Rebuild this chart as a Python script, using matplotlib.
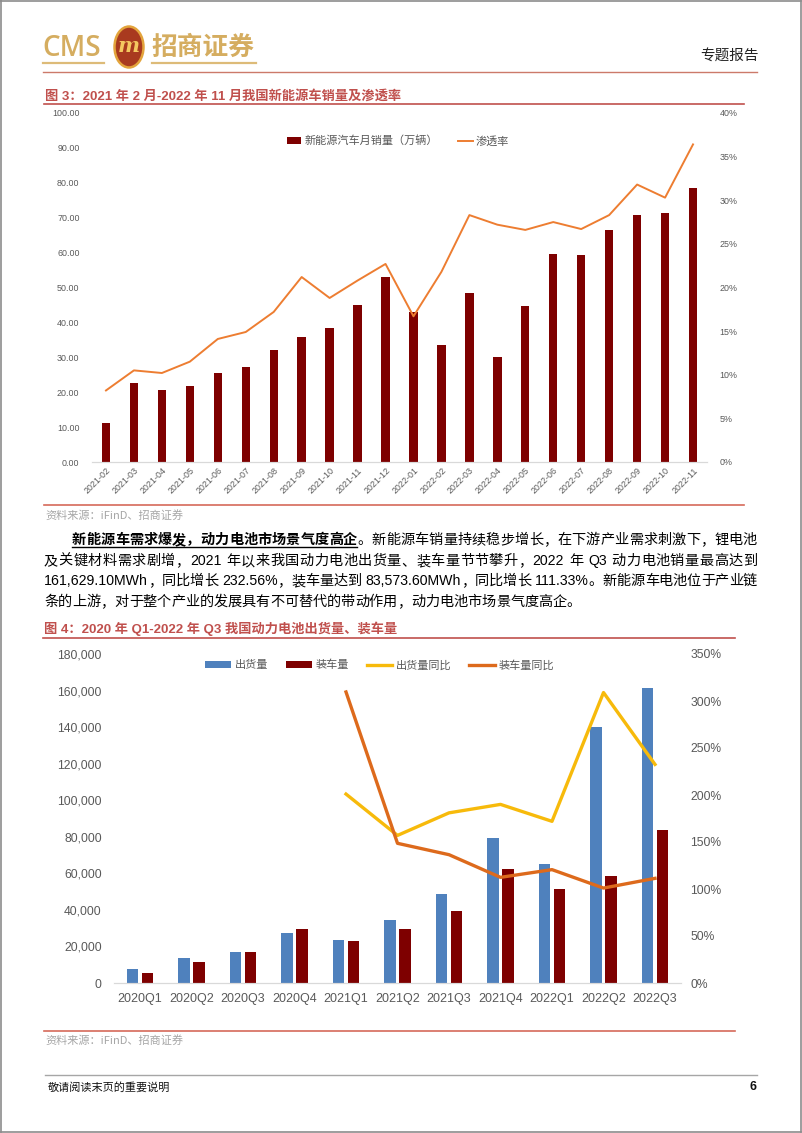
import matplotlib
matplotlib.use("Agg")
import matplotlib.pyplot as plt
import numpy as np
from matplotlib.patches import Circle, Patch
from matplotlib.lines import Line2D
from matplotlib.ticker import FuncFormatter, MultipleLocator

W, H = 802, 1133
CJK = ['Noto Sans CJK SC', 'DejaVu Sans']
LAT = ['Liberation Sans', 'Noto Sans CJK SC', 'DejaVu Sans']
plt.rcParams['font.family'] = CJK

# ---------------- data ----------------
months = ['2021-02', '2021-03', '2021-04', '2021-05', '2021-06', '2021-07', '2021-08',
          '2021-09', '2021-10', '2021-11', '2021-12', '2022-01', '2022-02', '2022-03',
          '2022-04', '2022-05', '2022-06', '2022-07', '2022-08', '2022-09', '2022-10',
          '2022-11']
nev_sales = [11.1, 22.7, 20.6, 21.8, 25.6, 27.1, 32.1, 35.7, 38.3, 45.0, 53.1, 43.1,
             33.4, 48.4, 30.0, 44.7, 59.6, 59.3, 66.6, 70.8, 71.4, 78.6]
penetration = [8.2, 10.5, 10.2, 11.5, 14.1, 14.9, 17.2, 21.2, 18.8, 20.8, 22.7, 16.7,
               21.8, 28.3, 27.2, 26.6, 27.5, 26.7, 28.3, 31.8, 30.3, 36.4]
chart1_labels = ['新能源汽车月销量（万辆）', '渗透率']

quarters = ['2020Q1', '2020Q2', '2020Q3', '2020Q4', '2021Q1', '2021Q2', '2021Q3',
            '2021Q4', '2022Q1', '2022Q2', '2022Q3']
shipments = [7840, 13500, 17150, 27360, 23700, 34290, 48500, 79160, 64930, 139900, 161629.10]
installs = [5700, 11670, 16780, 29550, 23160, 29370, 39400, 62380, 51250, 58550, 83573.60]
ship_yoy = [np.nan, np.nan, np.nan, np.nan, 201, 157, 181, 190, 172, 309, 232.56]
inst_yoy = [np.nan, np.nan, np.nan, np.nan, 309.6, 148.6, 136.5, 112.4, 120.6, 101, 111.33]
chart2_labels = ['出货量', '装车量', '出货量同比', '装车量同比']

# ---------------- helpers ----------------
def fx(x):
    return x / W

def fy(y):
    return 1 - y / H

fig = plt.figure(figsize=(W / 100, H / 100), dpi=100)
fig.patch.set_facecolor('white')

def hline(y, x0, x1, color, lw=1.0):
    fig.add_artist(Line2D([fx(x0), fx(x1)], [fy(y), fy(y)], color=color, lw=lw,
                          transform=fig.transFigure))

def vline(x, y0, y1, color, lw=1.0):
    fig.add_artist(Line2D([fx(x), fx(x)], [fy(y0), fy(y1)], color=color, lw=lw,
                          transform=fig.transFigure))

# page border
bc = '#8c8c8c'
hline(0.6, 0, 801, bc, 1.2)
hline(1131.5, 0, 801, bc, 1.2)
vline(0.6, 0, 1132, bc, 1.2)
vline(800.5, 0, 1132, bc, 1.2)

# ---------------- header ----------------
gold = '#D5AD60'
fig.text(fx(42), fy(48), 'CMS', fontsize=20, color=gold, family=['Open Sans', 'DejaVu Sans'],
         weight='semibold', va='center', ha='left')
logo = Circle((fx(129), fy(47)), 14.5 / W, transform=fig.transFigure,
              facecolor='#A93A1F', edgecolor='#E3A43C', lw=1.8)
fig.add_artist(logo)
fig.text(fx(129), fy(46), 'm', fontsize=15, color='#F4C860', weight='bold', style='italic',
         family=['DejaVu Serif'], ha='center', va='center')
fig.text(fx(151), fy(47), '招商证券', fontsize=18.5, color=gold, weight='bold',
         family=CJK, va='center', ha='left')
hline(62.5, 43, 104, '#DDBB78', 1.6)
hline(62.5, 152, 256, '#DDBB78', 1.6)
hline(72, 43, 757, '#CC7A6A', 1.0)
fig.text(fx(759), fy(56), '专题报告', fontsize=10.5, color='#222222', ha='right', va='center')

title_c = '#C0504D'
# ---------------- chart 1 ----------------
fig.text(fx(45), fy(96), '图 3：2021 年 2 月-2022 年 11 月我国新能源车销量及渗透率', fontsize=9.5,
         color=title_c, weight='bold', family=LAT, va='center', ha='left')
hline(104, 44, 744, title_c, 1.2)

ax1 = fig.add_axes([fx(92), fy(462), (707 - 92) / W, (462 - 113) / H])
x1 = np.arange(len(months))
ax1.bar(x1, nev_sales, width=0.3, color='#7E0000', zorder=2)
ax1.set_xlim(-0.5, len(months) - 0.5)
ax1.set_ylim(0, 100)
ax1.yaxis.set_major_locator(MultipleLocator(10))
ax1.yaxis.set_major_formatter(FuncFormatter(lambda v, p: f'{v:.2f}'))
ax1.set_xticks(x1)
ax1.set_xticklabels(months, rotation=45, ha='right', rotation_mode='anchor')
ax1b = ax1.twinx()
ax1b.plot(x1, penetration, color='#ED7D31', lw=1.4, zorder=3)
ax1b.set_ylim(0, 40)
ax1b.yaxis.set_major_locator(MultipleLocator(5))
ax1b.yaxis.set_major_formatter(FuncFormatter(lambda v, p: f'{v:.0f}%'))
for a in (ax1, ax1b):
    for s in ('top', 'left', 'right'):
        a.spines[s].set_visible(False)
    a.spines['bottom'].set_color('#D9D9D9')
    a.tick_params(length=0, labelsize=6.4, labelcolor='#595959')
    for t in a.get_xticklabels() + a.get_yticklabels():
        t.set_family(LAT)
ax1.tick_params(axis='y', pad=9)
ax1b.tick_params(axis='y', pad=9)
ax1.tick_params(axis='x', pad=3)
ax1b.patch.set_visible(False)
fig.legend([Patch(facecolor='#7E0000'), Line2D([], [], color='#ED7D31', lw=1.4)],
           chart1_labels, loc='center', bbox_to_anchor=(fx(398), fy(141)), ncol=2,
           frameon=False, fontsize=8, handlelength=1.3, handleheight=0.5,
           handletextpad=0.3, columnspacing=1.8, labelcolor='#595959')

fig.text(fx(45), fy(515), '资料来源：iFinD、招商证券', fontsize=8, color='#A6A6A6',
         va='center', ha='left')
hline(505, 44, 744, '#D66A5A', 1.2)

# ---------------- paragraph ----------------
fig.canvas.draw()
renderer = fig.canvas.get_renderer()

def tokenize(s):
    toks = []
    buf = ''
    for ch in s:
        if ord(ch) < 128 and ch != ' ':
            buf += ch
        else:
            if buf:
                toks.append(buf)
                buf = ''
            toks.append(ch)
    if buf:
        toks.append(buf)
    return toks

def draw_line(segments, x0, x1, y, size=10.2, justify=True):
    items = []
    for text, bold in segments:
        for tok in tokenize(text):
            t = fig.text(0, fy(y), tok, fontsize=size, family=LAT if tok.isascii() else CJK,
                         weight='bold' if bold else 'normal', color='#000000', va='center',
                         ha='left')
            w = t.get_window_extent(renderer).width if tok != ' ' else size * 0.28 / 0.72
            items.append((t, w, bold))
    total = sum(w for _, w, _ in items)
    gap = (x1 - x0 - total) / (len(items) - 1) if justify and len(items) > 1 else 0
    x = x0
    bold_end = None
    for t, w, bold in items:
        t.set_x(fx(x))
        x += w
        if bold:
            bold_end = x
        x += gap
    return bold_end

be = draw_line([('新能源车需求爆发，动力电池市场景气度高企', True),
                ('。新能源车销量持续稳步增长，在下游产业需求刺激下，锂电池', False)], 72, 757, 540)
hline(547, 72, be, '#000000', 1.0)
draw_line([('及关键材料需求剧增，2021 年以来我国动力电池出货量、装车量节节攀升，2022 年 Q3 动力电池销量最高达到', False)],
          44, 757, 561)
draw_line([('161,629.10MWh，同比增长 232.56%，装车量达到 83,573.60MWh，同比增长 111.33%。新能源车电池位于产业链', False)],
          44, 757, 581)
draw_line([('条的上游，对于整个产业的发展具有不可替代的带动作用，动力电池市场景气度高企。', False)],
          44, 757, 602, justify=False)

# ---------------- chart 2 ----------------
fig.text(fx(44), fy(629), '图 4：2020 年 Q1-2022 年 Q3 我国动力电池出货量、装车量', fontsize=9.5,
         color=title_c, weight='bold', family=LAT, va='center', ha='left')
hline(638, 43, 735, title_c, 1.2)

ax2 = fig.add_axes([fx(114.25), fy(983), (680.75 - 114.25) / W, (983 - 654) / H])
x2 = np.arange(len(quarters))
bw = 0.215
ax2.bar(x2 - 0.145, shipments, width=bw, color='#4F81BD', zorder=2)
ax2.bar(x2 + 0.145, installs, width=bw, color='#7E0000', zorder=2)
ax2.set_xlim(-0.5, len(quarters) - 0.5)
ax2.set_ylim(0, 180000)
ax2.yaxis.set_major_locator(MultipleLocator(20000))
ax2.yaxis.set_major_formatter(FuncFormatter(lambda v, p: f'{v:,.0f}'))
ax2.set_xticks(x2)
ax2.set_xticklabels(quarters)
ax2b = ax2.twinx()
ax2b.plot(x2, ship_yoy, color='#F7BA0B', lw=2.4, zorder=3)
ax2b.plot(x2, inst_yoy, color='#DD6A1C', lw=2.4, zorder=3)
ax2b.set_ylim(0, 350)
ax2b.yaxis.set_major_locator(MultipleLocator(50))
ax2b.yaxis.set_major_formatter(FuncFormatter(lambda v, p: f'{v:.0f}%'))
for a in (ax2, ax2b):
    for s in ('top', 'left', 'right'):
        a.spines[s].set_visible(False)
    a.spines['bottom'].set_color('#D9D9D9')
    a.tick_params(length=0, labelsize=8.7, labelcolor='#595959')
    for t in a.get_xticklabels() + a.get_yticklabels():
        t.set_family(LAT)
ax2.tick_params(axis='y', pad=9)
ax2b.tick_params(axis='y', pad=7)
ax2.tick_params(axis='x', pad=7, labelsize=9)
ax2b.patch.set_visible(False)
fig.legend([Patch(facecolor='#4F81BD'), Patch(facecolor='#7E0000'),
            Line2D([], [], color='#F7BA0B', lw=2.4), Line2D([], [], color='#DD6A1C', lw=2.4)],
           chart2_labels, loc='center', bbox_to_anchor=(fx(380), fy(665)), ncol=4,
           frameon=False, fontsize=8, handlelength=2.3, handleheight=0.5,
           handletextpad=0.35, columnspacing=1.6, labelcolor='#595959')

fig.text(fx(45), fy(1040), '资料来源：iFinD、招商证券', fontsize=8, color='#A6A6A6',
         va='center', ha='left')
hline(1031, 44, 735, '#D66A5A', 1.2)

# ---------------- footer ----------------
hline(1075, 45, 757, '#A6A6A6', 1.0)
fig.text(fx(48), fy(1087), '敬请阅读末页的重要说明', fontsize=8, color='#111111', va='center', ha='left')
fig.text(fx(757), fy(1087), '6', fontsize=9, color='#111111', weight='bold', family=LAT,
         va='center', ha='right')

fig.savefig('out.png', dpi=100, facecolor='white')
